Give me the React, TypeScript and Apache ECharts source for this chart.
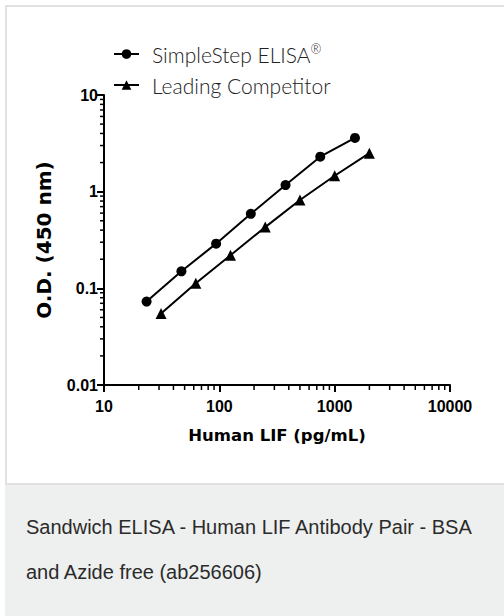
import React, { useEffect, useRef } from "react";
import * as echarts from "echarts";

const seriesNames = ["SimpleStep ELISA", "Leading Competitor"];
const xSimpleStep = [23.4, 46.9, 93.75, 187.5, 375, 750, 1500];
const ySimpleStep = [0.073, 0.15, 0.29, 0.59, 1.17, 2.3, 3.6];
const xCompetitor = [31.25, 62.5, 125, 250, 500, 1000, 2000];
const yCompetitor = [0.055, 0.113, 0.22, 0.43, 0.82, 1.46, 2.5];

const xTickLabels = ["10", "100", "1000", "10000"];
const yTickLabels = ["0.01", "0.1", "1", "10"];
const xMinorTicks = [20, 30, 40, 50, 60, 70, 80, 90, 200, 300, 400, 500, 600, 700, 800, 900, 2000, 3000, 4000, 5000, 6000, 7000, 8000, 9000];
const yMinorTicks = [0.02, 0.03, 0.04, 0.05, 0.06, 0.07, 0.08, 0.09, 0.2, 0.3, 0.4, 0.5, 0.6, 0.7, 0.8, 0.9, 2, 3, 4, 5, 6, 7, 8, 9];

const xTitle = "Human LIF (pg/mL)";
const yTitle = "O.D. (450 nm)";
const captionLines = [
  "Sandwich ELISA - Human LIF Antibody Pair - BSA",
  "and Azide free (ab256606)",
];

const X_MIN = 10, X_MAX = 10000, Y_MIN = 0.01, Y_MAX = 10;

export default function App() {
  const ref = useRef<HTMLDivElement>(null);
  useEffect(() => {
    if (!ref.current) return;
    const chart = echarts.init(ref.current, undefined, { renderer: "svg" });
    const tickFont = { fontFamily: "Liberation Sans", fontWeight: "bold", fontSize: 16, color: "#000" };
    const labelFor = (labels: string[], min: number) => (v: number) => {
      const i = Math.round(Math.log10(v) - Math.log10(min));
      return labels[i] ?? "";
    };
    chart.setOption({
      animation: false,
      backgroundColor: "#fff",
      graphic: [
        { type: "rect", z: -10, shape: { x: 5, y: 5, width: 499, height: 480 }, style: { fill: "#e1e1e1" } },
        { type: "rect", z: -10, shape: { x: 7, y: 7, width: 497, height: 476 }, style: { fill: "#ffffff" } },
        { type: "rect", z: -10, shape: { x: 5, y: 485, width: 499, height: 131 }, style: { fill: "#eef0ef" } },
        ...captionLines.map((t, i) => ({
          type: "text",
          x: 26,
          y: 527 + i * 45,
          style: { text: t, fill: "#2b2b2b", font: "20px 'Liberation Sans'", textVerticalAlign: "middle" },
        })),
      ],
      legend: {
        orient: "vertical",
        left: 108,
        top: 37,
        itemWidth: 25,
        itemHeight: 12,
        itemGap: 10,
        data: seriesNames,
        formatter: (name: string) => (name === seriesNames[0] ? `{a|${name}}{sup|®}` : `{a|${name}}`),
        textStyle: {
          rich: {
            a: { fontFamily: "Lato", fontWeight: 300, fontSize: 21, color: "#222", lineHeight: 24, padding: [0, 0, 0, 8] },
            sup: { fontFamily: "Lato", fontWeight: 300, fontSize: 13, color: "#222", verticalAlign: "top", lineHeight: 12 },
          },
        },
      },
      grid: { left: 104, right: 54, top: 95, bottom: 231, containLabel: false },
      xAxis: {
        type: "log",
        logBase: 10,
        min: X_MIN,
        max: X_MAX,
        name: xTitle,
        nameLocation: "middle",
        nameGap: 42,
        nameTextStyle: { fontFamily: "DejaVu Sans", fontWeight: "bold", fontSize: 16.5, color: "#000" },
        axisLine: { show: true, onZero: false, lineStyle: { color: "#000", width: 2 } },
        axisTick: { show: true, inside: false, length: 7, lineStyle: { color: "#000", width: 2 } },
        axisLabel: { ...tickFont, margin: 13, formatter: labelFor(xTickLabels, X_MIN) },
        splitLine: { show: false },
      },
      yAxis: {
        type: "log",
        logBase: 10,
        min: Y_MIN,
        max: Y_MAX,
        name: yTitle,
        nameLocation: "middle",
        nameGap: 50,
        nameRotate: 90,
        nameTextStyle: { fontFamily: "DejaVu Sans", fontWeight: "bold", fontSize: 20, color: "#000" },
        axisLine: { show: true, onZero: false, lineStyle: { color: "#000", width: 2 } },
        axisTick: { show: true, inside: false, length: 7, lineStyle: { color: "#000", width: 2 } },
        axisLabel: { ...tickFont, margin: 6, formatter: labelFor(yTickLabels, Y_MIN) },
        splitLine: { show: false },
      },
      series: [
        {
          name: seriesNames[0],
          type: "line",
          data: xSimpleStep.map((x, i) => [x, ySimpleStep[i]]),
          symbol: "circle",
          symbolSize: 10,
          lineStyle: { color: "#000", width: 2 },
          itemStyle: { color: "#000" },
          z: 5,
        },
        {
          name: seriesNames[1],
          type: "line",
          data: xCompetitor.map((x, i) => [x, yCompetitor[i]]),
          symbol: "triangle",
          symbolSize: 11,
          lineStyle: { color: "#000", width: 2 },
          itemStyle: { color: "#000" },
          z: 5,
        },
        {
          type: "custom",
          silent: true,
          clip: false,
          data: xMinorTicks.map((v) => [v, Y_MIN]),
          renderItem: (_p: any, api: any) => {
            const pt = api.coord([api.value(0), api.value(1)]);
            return {
              type: "line",
              shape: { x1: pt[0], y1: pt[1], x2: pt[0], y2: pt[1] + 5 },
              style: { stroke: "#000", lineWidth: 1.5 },
            };
          },
        },
        {
          type: "custom",
          silent: true,
          clip: false,
          data: yMinorTicks.map((v) => [X_MIN, v]),
          renderItem: (_p: any, api: any) => {
            const pt = api.coord([api.value(0), api.value(1)]);
            return {
              type: "line",
              shape: { x1: pt[0], y1: pt[1], x2: pt[0] - 4, y2: pt[1] },
              style: { stroke: "#000", lineWidth: 1.5 },
            };
          },
        },
      ],
    });
    return () => chart.dispose();
  }, []);
  return (
    <div
      ref={ref}
      style={{ position: "fixed", left: 0, top: 0, width: 504, height: 616 }}
    />
  );
}
